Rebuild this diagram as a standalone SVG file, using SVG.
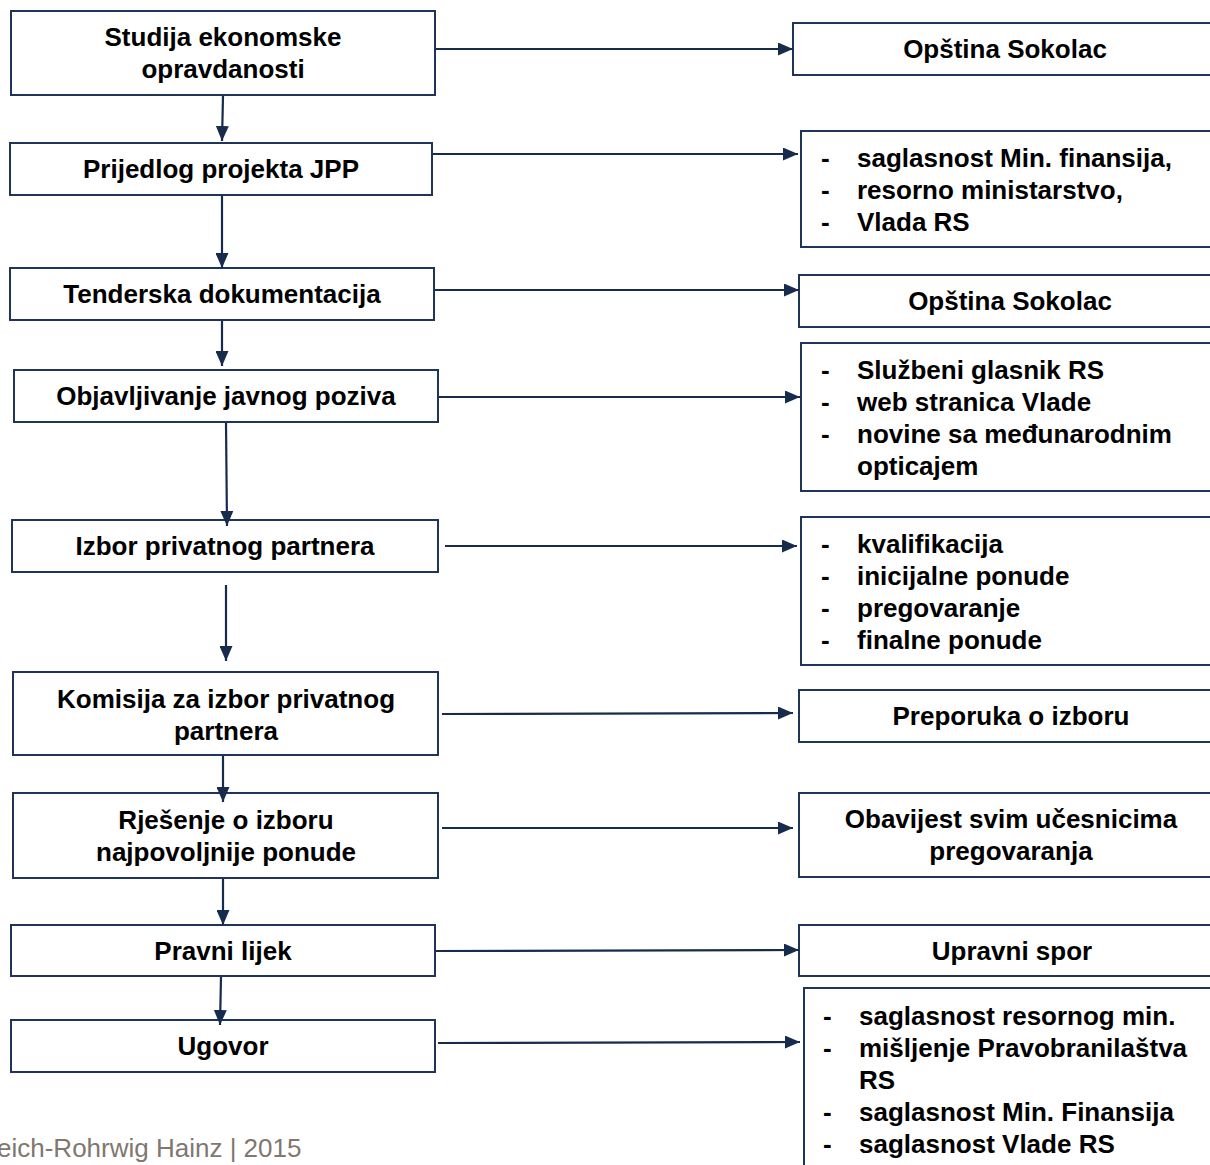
<svg xmlns="http://www.w3.org/2000/svg" width="1210" height="1165" viewBox="0 0 1210 1165">
<defs>
<marker id="ah" viewBox="0 0 15 13" refX="15" refY="6.5" markerWidth="15" markerHeight="13" markerUnits="userSpaceOnUse" orient="auto">
<path d="M0,0 L15,6.5 L0,13 Z" fill="#172b4d"/>
</marker>
<style>
.box{fill:#fff;stroke:#1f3557;stroke-width:2}
.t{font-family:"Liberation Sans",Arial,sans-serif;font-weight:bold;font-size:26px;fill:#000}
.c{text-anchor:middle}
.con{stroke:#172b4d;stroke-width:2.2;fill:none;marker-end:url(#ah)}
.foot{font-family:"Liberation Sans",Arial,sans-serif;font-size:26px;fill:#7f7770}
</style>
</defs>
<rect width="1210" height="1165" fill="#fff"/>
<g id="n1"><rect class="box" x="11" y="11" width="424" height="84"/><text class="t c" x="223" y="46">Studija ekonomske</text><text class="t c" x="223" y="78">opravdanosti</text></g>
<g id="n2"><rect class="box" x="10" y="143" width="422" height="52"/><text class="t c" x="221" y="178">Prijedlog projekta JPP</text></g>
<g id="n3"><rect class="box" x="10" y="268" width="424" height="52"/><text class="t c" x="222" y="303">Tenderska dokumentacija</text></g>
<g id="n4"><rect class="box" x="14" y="370" width="424" height="52"/><text class="t c" x="226" y="405">Objavljivanje javnog poziva</text></g>
<g id="n5"><rect class="box" x="12" y="520" width="426" height="52"/><text class="t c" x="225" y="555">Izbor privatnog partnera</text></g>
<g id="n6"><rect class="box" x="13" y="672" width="425" height="83"/><text class="t c" x="226" y="708">Komisija za izbor privatnog</text><text class="t c" x="226" y="740">partnera</text></g>
<g id="n7"><rect class="box" x="13" y="793" width="425" height="85"/><text class="t c" x="226" y="829">Rješenje o izboru</text><text class="t c" x="226" y="861">najpovoljnije ponude</text></g>
<g id="n8"><rect class="box" x="11" y="925" width="424" height="51"/><text class="t c" x="223" y="960">Pravni lijek</text></g>
<g id="n9"><rect class="box" x="11" y="1020" width="424" height="52"/><text class="t c" x="223" y="1055">Ugovor</text></g>
<g id="r1"><rect class="box" x="793" y="23" width="430" height="52"/><text class="t c" x="1005" y="58">Opština Sokolac</text></g>
<g id="r2"><rect class="box" x="801" y="131" width="422" height="116"/>
<text class="t" x="821" y="167">-</text><text class="t" x="857" y="167">saglasnost Min. finansija,</text>
<text class="t" x="821" y="199">-</text><text class="t" x="857" y="199">resorno ministarstvo,</text>
<text class="t" x="821" y="231">-</text><text class="t" x="857" y="231">Vlada RS</text></g>
<g id="r3"><rect class="box" x="799" y="275" width="424" height="52"/><text class="t c" x="1010" y="310">Opština Sokolac</text></g>
<g id="r4"><rect class="box" x="801" y="343" width="422" height="148"/>
<text class="t" x="821" y="379">-</text><text class="t" x="857" y="379">Službeni glasnik RS</text>
<text class="t" x="821" y="411">-</text><text class="t" x="857" y="411">web stranica Vlade</text>
<text class="t" x="821" y="443">-</text><text class="t" x="857" y="443">novine sa međunarodnim</text>
<text class="t" x="857" y="475">opticajem</text></g>
<g id="r5"><rect class="box" x="801" y="517" width="422" height="148"/>
<text class="t" x="821" y="553">-</text><text class="t" x="857" y="553">kvalifikacija</text>
<text class="t" x="821" y="585">-</text><text class="t" x="857" y="585">inicijalne ponude</text>
<text class="t" x="821" y="617">-</text><text class="t" x="857" y="617">pregovaranje</text>
<text class="t" x="821" y="649">-</text><text class="t" x="857" y="649">finalne ponude</text></g>
<g id="r6"><rect class="box" x="799" y="690" width="424" height="52"/><text class="t c" x="1011" y="725">Preporuka o izboru</text></g>
<g id="r7"><rect class="box" x="799" y="793" width="424" height="84"/><text class="t c" x="1011" y="828">Obavijest svim učesnicima</text><text class="t c" x="1011" y="860">pregovaranja</text></g>
<g id="r8"><rect class="box" x="799" y="925" width="424" height="51"/><text class="t c" x="1012" y="960">Upravni spor</text></g>
<g id="r9"><rect class="box" x="804" y="988" width="420" height="200"/>
<text class="t" x="823" y="1025">-</text><text class="t" x="859" y="1025">saglasnost resornog min.</text>
<text class="t" x="823" y="1057">-</text><text class="t" x="859" y="1057">mišljenje Pravobranilaštva</text>
<text class="t" x="859" y="1089">RS</text>
<text class="t" x="823" y="1121">-</text><text class="t" x="859" y="1121">saglasnost Min. Finansija</text>
<text class="t" x="823" y="1153">-</text><text class="t" x="859" y="1153">saglasnost Vlade RS</text></g>
<g id="connectors">
<line class="con" x1="436" y1="49" x2="793" y2="49"/>
<line class="con" x1="433" y1="154" x2="798" y2="154"/>
<line class="con" x1="435" y1="290" x2="799" y2="290"/>
<line class="con" x1="439" y1="397" x2="800" y2="397"/>
<line class="con" x1="445" y1="546" x2="797" y2="546"/>
<line class="con" x1="442" y1="714" x2="793" y2="713"/>
<line class="con" x1="442" y1="828" x2="793" y2="828"/>
<line class="con" x1="436" y1="951" x2="799" y2="950"/>
<line class="con" x1="438" y1="1043" x2="800" y2="1042"/>
<line class="con" x1="223" y1="96" x2="222" y2="141"/>
<line class="con" x1="222" y1="196" x2="222" y2="268"/>
<line class="con" x1="222" y1="321" x2="222" y2="366"/>
<line class="con" x1="226" y1="423" x2="227" y2="526"/>
<line class="con" x1="226" y1="585" x2="226" y2="661"/>
<line class="con" x1="223" y1="756" x2="223" y2="802"/>
<line class="con" x1="223" y1="879" x2="223" y2="925"/>
<line class="con" x1="221" y1="977" x2="220" y2="1025"/>
</g>
<text class="foot" x="-3" y="1157">eich-Rohrwig Hainz | 2015</text>
</svg>
